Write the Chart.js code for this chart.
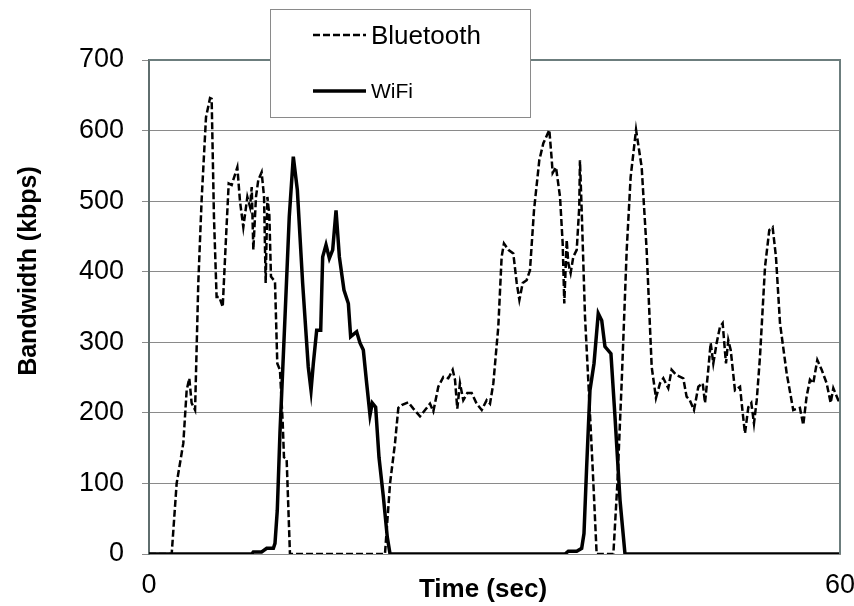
<!DOCTYPE html>
<html>
<head>
<meta charset="utf-8">
<script src="https://cdn.jsdelivr.net/npm/chart.js@4/dist/chart.umd.min.js"></script>
<style>
  html, body { margin: 0; padding: 0; background: #fff; }
  #wrap { width: 854px; height: 606px; }
</style>
</head>
<body>
<div id="wrap"><canvas id="bw-chart" width="854" height="606"></canvas></div>
<script>
  // time (sec) and bandwidth (kbps)
  var btTime = [0, 1.97, 2.40, 2.98, 3.27, 3.50, 3.70, 4.00, 4.28, 4.57, 4.95, 5.30, 5.44, 5.64, 5.87, 6.11, 6.40, 6.69, 6.92, 7.18,
    7.67, 7.90, 8.19, 8.54, 8.77, 8.92, 9.06, 9.29, 9.49, 9.78, 9.99, 10.13, 10.28, 10.45, 10.59, 10.94, 11.14, 11.37, 11.61, 11.72,
    11.95, 12.24, 20.49, 20.93, 21.36, 21.65, 21.94, 22.52, 22.95, 23.53, 23.97, 24.40, 24.69, 25.12, 25.56, 25.99, 26.37, 26.57, 26.77, 27.00,
    27.29, 27.64, 28.02, 28.45, 28.89, 29.32, 29.61, 29.90, 30.33, 30.62, 30.82, 31.20, 31.63, 31.93, 32.16, 32.45, 32.79, 33.08, 33.43, 33.89,
    34.24, 34.76, 34.95, 35.05, 35.34, 35.69, 35.92, 36.06, 36.27, 36.41, 36.61, 36.84, 37.14, 37.36, 37.42, 37.57, 37.86, 38.23, 38.52, 38.87,
    40.32, 40.67, 41.04, 41.48, 41.82, 42.29, 42.78, 43.21, 43.65, 44.02, 44.37, 44.66, 45.09, 45.38, 45.76, 46.39, 46.68, 46.95, 47.32, 47.70,
    48.08, 48.28, 48.56, 48.77, 49.00, 49.29, 49.58, 49.81, 50.10, 50.30, 50.51, 50.88, 51.32, 51.55, 51.75, 52.04, 52.30, 52.53, 52.77, 53.05,
    53.49, 53.86, 54.15, 54.44, 54.79, 55.37, 55.94, 56.52, 56.81, 57.10, 57.39, 57.68, 58.03, 58.41, 58.84, 59.19, 59.42, 59.85, 60];
  var btValues = [0, 0, 100, 157, 232, 249, 214, 204, 384, 502, 619, 646, 645, 478, 364, 364, 350, 449, 525, 523,
    548, 500, 463, 506, 492, 520, 431, 506, 530, 541, 506, 384, 506, 480, 393, 386, 270, 261, 186, 137,
    135, 0, 0, 100, 157, 207, 211, 215, 206, 195, 204, 213, 202, 237, 251, 249, 261, 247, 206, 242,
    218, 228, 228, 213, 204, 218, 213, 242, 322, 421, 440, 431, 426, 384, 360, 384, 388, 402, 487, 558,
    582, 601, 563, 540, 548, 506, 440, 355, 445, 412, 398, 421, 431, 492, 558, 487, 336, 218, 123, 0,
    0, 100, 242, 431, 534, 601, 548, 431, 265, 221, 242, 249, 235, 261, 254, 249, 223, 218, 204, 237,
    242, 214, 261, 299, 270, 299, 322, 327, 270, 303, 289, 232, 237, 200, 171, 208, 214, 185, 218, 279,
    407, 459, 463, 421, 327, 256, 204, 207, 183, 223, 247, 242, 275, 261, 242, 214, 235, 218, 218];

  var wifiTime = [0, 8.92, 9.06, 9.78, 10.22, 10.80, 10.94, 11.14, 11.37, 11.81, 12.18, 12.53, 12.88, 13.34, 13.83, 14.07, 14.27, 14.56, 14.91, 15.08,
    15.37, 15.66, 15.95, 16.24, 16.53, 16.93, 17.31, 17.51, 18.03, 18.32, 18.61, 18.90, 19.19, 19.39, 19.68, 19.97, 20.35, 20.69, 20.93,
    36.12, 36.41, 37.14, 37.57, 37.77, 38.00, 38.29, 38.64, 39.01, 39.31, 39.59, 40.11, 40.46, 40.90, 41.33, 60];
  var wifiValues = [0, 0, 3, 3, 8, 8, 15, 62, 171, 336, 478, 563, 516, 384, 265, 232, 270, 317, 317, 421,
    438, 419, 431, 487, 421, 374, 355, 308, 315, 299, 289, 242, 197, 214, 208, 137, 81, 24, 0,
    0, 4, 4, 8, 29, 123, 232, 270, 341, 331, 294, 284, 195, 76, 0, 0];

  var seriesNames = ["Bluetooth", "WiFi"];
  var yTicks = [0, 100, 200, 300, 400, 500, 600, 700];
  var xTicks = [0, 60];
  var xTitle = "Time (sec)";
  var yTitle = "Bandwidth (kbps)";

  var FONT = "'Liberation Sans', Arial, sans-serif";

  function toPoints(xs, ys) {
    return xs.map(function (x, i) { return { x: x, y: ys[i] }; });
  }

  // plot frame (top + right) drawn over the grid
  var framePlugin = {
    id: "frame",
    afterDatasetsDraw: function (chart) {
      var a = chart.chartArea;
      var ctx = chart.ctx;
      ctx.save();
      ctx.strokeStyle = "#6c7d7d";
      ctx.lineWidth = 2;
      ctx.beginPath();
      ctx.moveTo(a.left, a.top);
      ctx.lineTo(a.right, a.top);
      ctx.lineTo(a.right, a.bottom);
      ctx.stroke();
      ctx.restore();
    }
  };

  // axis titles sit where the original had them (off-centre)
  var titlesPlugin = {
    id: "axisTitles",
    afterDraw: function (chart) {
      var ctx = chart.ctx;
      ctx.save();
      ctx.fillStyle = "#000";
      ctx.textAlign = "center";
      ctx.textBaseline = "middle";
      ctx.font = "bold 26px " + FONT;
      ctx.fillText(xTitle, 483, 590);
      ctx.translate(29, 271);
      ctx.rotate(-Math.PI / 2);
      ctx.font = "bold 25px " + FONT;
      ctx.fillText(yTitle, 0, 0);
      ctx.restore();
    }
  };

  // boxed legend with different label sizes, like the original
  var legendPlugin = {
    id: "boxLegend",
    afterDraw: function (chart) {
      var ctx = chart.ctx;
      ctx.save();
      ctx.fillStyle = "#fff";
      ctx.fillRect(271, 10, 260, 107);
      ctx.strokeStyle = "#8a8a8a";
      ctx.lineWidth = 1;
      ctx.strokeRect(270.5, 9.5, 260, 108);

      ctx.strokeStyle = "#000";
      ctx.lineWidth = 2.5;
      ctx.setLineDash([7, 3]);
      ctx.beginPath();
      ctx.moveTo(313, 35);
      ctx.lineTo(366, 35);
      ctx.stroke();

      ctx.setLineDash([]);
      ctx.lineWidth = 3.5;
      ctx.beginPath();
      ctx.moveTo(313, 91);
      ctx.lineTo(366, 91);
      ctx.stroke();

      ctx.fillStyle = "#000";
      ctx.textBaseline = "middle";
      ctx.textAlign = "left";
      ctx.font = "26px " + FONT;
      ctx.fillText(seriesNames[0], 371, 37);
      ctx.font = "21px " + FONT;
      ctx.fillText(seriesNames[1], 371, 92);
      ctx.restore();
    }
  };

  new Chart(document.getElementById("bw-chart"), {
    type: "line",
    data: {
      datasets: [
        {
          label: seriesNames[0],
          data: toPoints(btTime, btValues),
          borderColor: "#000",
          borderWidth: 2.5,
          borderDash: [7, 3],
          pointRadius: 0,
          tension: 0,
          fill: false
        },
        {
          label: seriesNames[1],
          data: toPoints(wifiTime, wifiValues),
          borderColor: "#000",
          borderWidth: 3.5,
          pointRadius: 0,
          tension: 0,
          fill: false
        }
      ]
    },
    options: {
      responsive: false,
      animation: false,
      layout: { padding: { top: 60, right: 14, left: 0, bottom: 0 } },
      plugins: {
        legend: { display: false },
        tooltip: { enabled: false }
      },
      scales: {
        x: {
          type: "linear",
          min: 0,
          max: 60,
          afterBuildTicks: function (scale) {
            scale.ticks = xTicks.map(function (v) { return { value: v }; });
          },
          afterFit: function (scale) {
            scale.height = 52;
            scale.paddingLeft = 0;
            scale.paddingRight = 0;
          },
          grid: { display: false },
          border: { display: true, color: "#8a8a8a", width: 1 },
          ticks: { color: "#000", padding: 7, maxRotation: 0, font: { family: FONT, size: 27 } }
        },
        y: {
          min: 0,
          max: 700,
          afterBuildTicks: function (scale) {
            scale.ticks = yTicks.map(function (v) { return { value: v }; });
          },
          afterFit: function (scale) { scale.width = 149; },
          grid: { color: "#8a8a8a", lineWidth: 1, tickLength: 7, drawTicks: true },
          border: { display: true, color: "#5f6e6e", width: 2 },
          ticks: { color: "#000", padding: 18, font: { family: FONT, size: 27 } }
        }
      }
    },
    plugins: [framePlugin, titlesPlugin, legendPlugin]
  });
</script>
</body>
</html>
